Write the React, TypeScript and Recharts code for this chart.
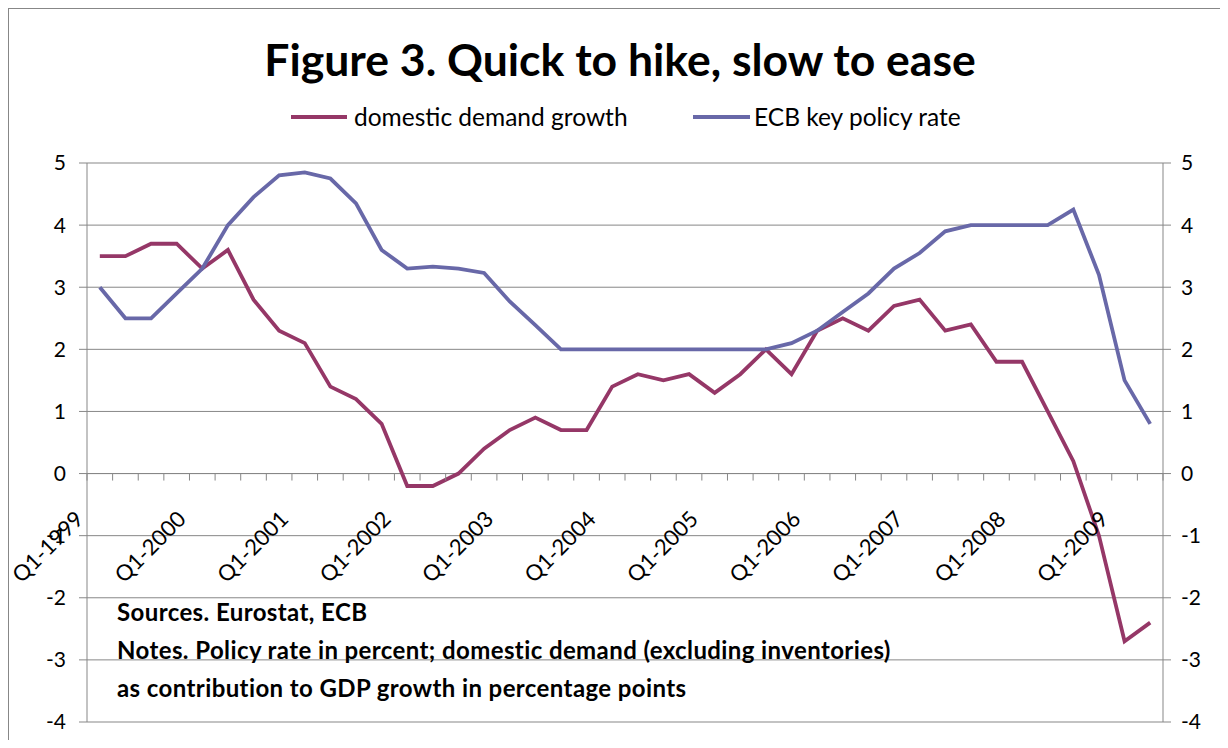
import React from 'react';
import { LineChart, Line, XAxis, YAxis, CartesianGrid, Legend, ReferenceLine, ReferenceDot } from 'recharts';

const quarters = [
  'Q1-1999', 'Q2-1999', 'Q3-1999', 'Q4-1999',
  'Q1-2000', 'Q2-2000', 'Q3-2000', 'Q4-2000',
  'Q1-2001', 'Q2-2001', 'Q3-2001', 'Q4-2001',
  'Q1-2002', 'Q2-2002', 'Q3-2002', 'Q4-2002',
  'Q1-2003', 'Q2-2003', 'Q3-2003', 'Q4-2003',
  'Q1-2004', 'Q2-2004', 'Q3-2004', 'Q4-2004',
  'Q1-2005', 'Q2-2005', 'Q3-2005', 'Q4-2005',
  'Q1-2006', 'Q2-2006', 'Q3-2006', 'Q4-2006',
  'Q1-2007', 'Q2-2007', 'Q3-2007', 'Q4-2007',
  'Q1-2008', 'Q2-2008', 'Q3-2008', 'Q4-2008',
  'Q1-2009', 'Q2-2009',
];

const domesticDemand = [
  3.5, 3.5, 3.7, 3.7, 3.3, 3.6, 2.8, 2.3, 2.1, 1.4, 1.2, 0.8,
  -0.2, -0.2, 0.0, 0.4, 0.7, 0.9, 0.7, 0.7, 1.4, 1.6, 1.5, 1.6,
  1.3, 1.6, 2.0, 1.6, 2.3, 2.5, 2.3, 2.7, 2.8, 2.3, 2.4, 1.8,
  1.8, 1.0, 0.2, -1.0, -2.7, -2.4,
];

const ecbRate = [
  3.0, 2.5, 2.5, 2.9, 3.3, 4.0, 4.45, 4.8, 4.85, 4.75, 4.35, 3.6,
  3.3, 3.33, 3.3, 3.23, 2.77, 2.39, 2.0, 2.0, 2.0, 2.0, 2.0, 2.0,
  2.0, 2.0, 2.0, 2.1, 2.3, 2.6, 2.9, 3.3, 3.55, 3.9, 4.0, 4.0,
  4.0, 4.0, 4.25, 3.2, 1.5, 0.8,
];

const yTicks = [-4, -3, -2, -1, 0, 1, 2, 3, 4, 5];

const notes = [
  'Sources. Eurostat, ECB',
  'Notes. Policy rate in percent; domestic demand (excluding inventories)',
  'as contribution to GDP growth in percentage points',
];

const data = quarters.map((q, i) => ({ idx: i, q, dom: domesticDemand[i], ecb: ecbRate[i] }));
const boundaries = [...quarters.map((_, i) => i - 0.5), quarters.length - 0.5];
const yearStarts = quarters.map((q, i) => ({ q, i })).filter((d) => d.q.startsWith('Q1'));

const FONT = 'Lato, "Open Sans", sans-serif';
const GRAY = '#878787';
const MAGENTA = '#953767';
const BLUE = '#6868a8';
const W = 1211;
const H = 731;

const tickShape = (p: any) => (
  <line x1={p.cx} x2={p.cx} y1={p.cy} y2={p.cy + 7} stroke={GRAY} strokeWidth={1} />
);

const quarterLabel = (text: string) => (p: any) => {
  const x = p.cx - 15;
  const y = p.cy + 47;
  return (
    <text x={x} y={y} textAnchor="end" transform={`rotate(-45 ${x} ${y})`}
      fontSize={22} fontFamily={FONT} fill="#000">{text}</text>
  );
};

const legendItems = [
  { name: 'domestic demand growth', color: MAGENTA, x1: 282, x2: 338, tx: 345 },
  { name: 'ECB key policy rate', color: BLUE, x1: 684, x2: 741, tx: 745 },
];

const renderLegend = () => (
  <svg width={W} height={40} style={{ display: 'block' }}>
    {legendItems.map((it) => (
      <g key={it.name}>
        <line x1={it.x1} x2={it.x2} y1={22} y2={22} stroke={it.color} strokeWidth={3.8} />
        <text x={it.tx} y={22} dy="0.36em" fontSize={24.5} fontFamily={FONT} fill="#000">{it.name}</text>
      </g>
    ))}
  </svg>
);

export default function App() {
  return (
    <div style={{ position: 'relative', width: 1212, height: 732, borderLeft: `1px solid ${GRAY}`, borderTop: `1px solid ${GRAY}`, overflow: 'hidden', boxSizing: 'border-box' }}>
      <LineChart width={W} height={H} data={data} margin={{ top: 154, right: 1, bottom: 18, left: 18 }}>
        <CartesianGrid vertical={false} stroke={GRAY} strokeWidth={1} />
        <XAxis type="number" dataKey="idx" domain={[-0.5, quarters.length - 0.5]} hide />
        <YAxis domain={[-4, 5]} ticks={yTicks} width={60} tickSize={8} tickMargin={13}
          axisLine={{ stroke: GRAY }} tickLine={{ stroke: GRAY }} allowDataOverflow
          tick={{ fill: '#000', fontSize: 21, fontFamily: FONT }} interval={0} />
        <YAxis yAxisId="r" orientation="right" domain={[-4, 5]} ticks={yTicks} width={56} tickSize={8} tickMargin={10}
          axisLine={{ stroke: GRAY }} tickLine={{ stroke: GRAY }} allowDataOverflow
          tick={{ fill: '#000', fontSize: 21, fontFamily: FONT }} interval={0} />
        <ReferenceLine y={0} stroke={GRAY} strokeWidth={1} />
        {boundaries.map((b) => (
          <ReferenceDot key={`t${b}`} x={b} y={0} r={0} shape={tickShape} ifOverflow="visible" />
        ))}
        {yearStarts.map((d) => (
          <ReferenceDot key={`l${d.i}`} x={d.i} y={0} r={0} shape={quarterLabel(d.q)} ifOverflow="visible" />
        ))}
        <Line type="linear" dataKey="dom" name="domestic demand growth" stroke={MAGENTA} strokeWidth={3.8} dot={false} isAnimationActive={false} />
        <Line type="linear" dataKey="ecb" name="ECB key policy rate" stroke={BLUE} strokeWidth={3.8} dot={false} isAnimationActive={false} />
        <Legend layout="horizontal" verticalAlign="middle" content={renderLegend}
          wrapperStyle={{ top: 86, left: 0, width: W, height: 40 }} />
      </LineChart>
      <svg width={W} height={H} style={{ position: 'absolute', left: 0, top: 0, pointerEvents: 'none' }}>
        <text x={611} y={67} textAnchor="middle" fontSize={44.5} fontWeight={700} fontFamily={FONT} fill="#000">
          Figure 3. Quick to hike, slow to ease
        </text>
        {notes.map((n, i) => (
          <text key={n} x={108} y={612 + i * 38} fontSize={24} letterSpacing={0.4} fontWeight={700} fontFamily={FONT} fill="#000">{n}</text>
        ))}
      </svg>
    </div>
  );
}
